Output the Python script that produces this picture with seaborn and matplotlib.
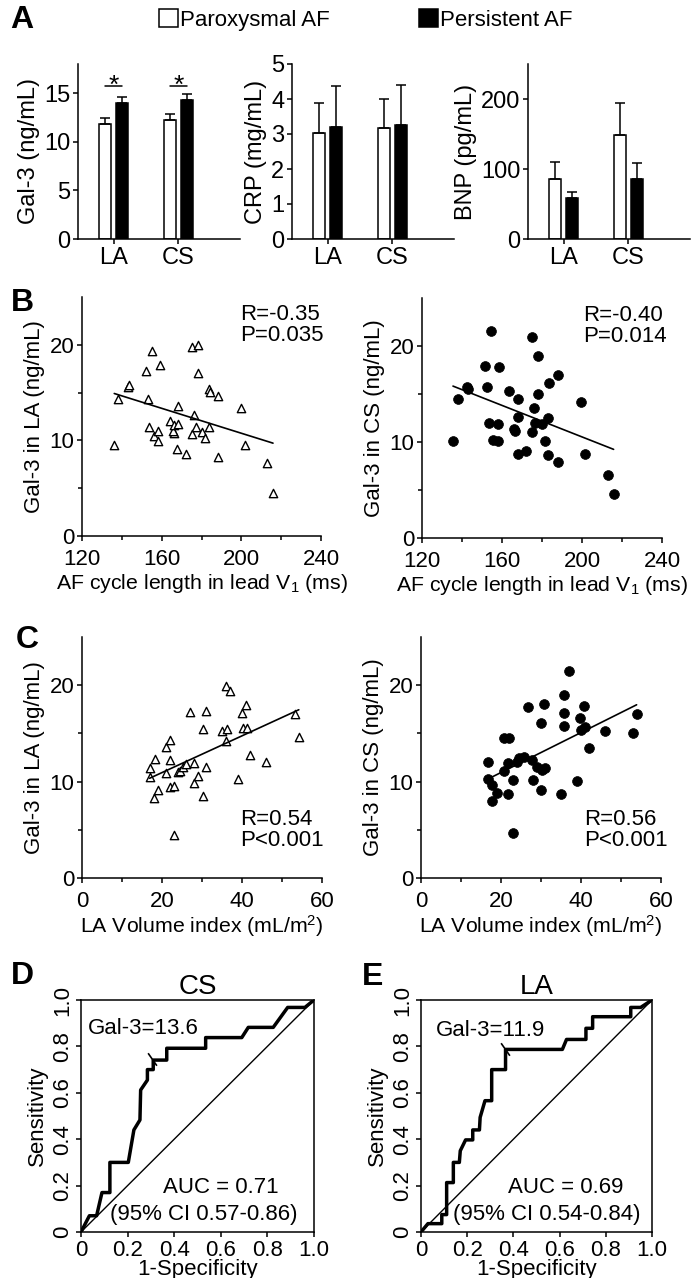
import numpy as np
import pandas as pd
import matplotlib
matplotlib.use("Agg")
import matplotlib.pyplot as plt
import seaborn as sns
from matplotlib.ticker import FixedLocator

# ---------------- panel A : mean + upper SEM ----------------
sites = ["LA", "CS"]
groups = ["Paroxysmal AF", "Persistent AF"]

gal3_par = [11.8, 12.2]
gal3_per = [14.0, 14.3]
gal3_par_err = [0.65, 0.7]
gal3_per_err = [0.6, 0.65]
gal3_sig_y = [15.7, 15.7]

crp_par = [3.03, 3.17]
crp_per = [3.2, 3.26]
crp_par_err = [0.86, 0.84]
crp_per_err = [1.16, 1.15]

bnp_par = [86, 148]
bnp_per = [59, 86]
bnp_par_err = [24, 46]
bnp_per_err = [8, 22]

# ---------------- panel B : AF cycle length vs Gal-3 ----------------
cl_la = [136.2, 138.1, 143.1, 143.4, 152.0, 155.1, 153.1, 159.3, 153.8, 156.0,
         158.2, 158.2, 164.0, 166.0, 165.7, 166.4, 168.2, 168.2, 167.7, 172.0,
         175.0, 178.0, 178.0, 176.0, 175.0, 177.2, 180.2, 182.0, 183.6, 183.8,
         184.1, 188.1, 188.1, 199.8, 202.0, 212.9, 215.9]
gal3_la_cl = [9.5, 14.3, 15.6, 15.8, 17.3, 19.3, 14.3, 17.9, 11.4, 10.5,
              11.0, 9.9, 12.0, 10.8, 11.0, 11.6, 11.7, 13.6, 9.1, 8.6,
              19.8, 20.0, 17.0, 12.7, 10.7, 11.4, 10.9, 10.3, 11.4, 15.4,
              15.1, 14.6, 8.3, 13.4, 9.5, 7.6, 4.5]

cl_cs = [135.5, 137.8, 142.7, 143.0, 151.7, 154.7, 152.7, 158.7, 153.7, 158.0,
         155.7, 158.0, 163.7, 167.8, 167.8, 165.8, 166.7, 167.8, 172.0, 174.8,
         174.8, 177.8, 177.8, 175.8, 176.7, 180.0, 182.8, 183.7, 187.8, 181.7,
         182.8, 187.8, 199.7, 201.7, 212.8, 215.8]
gal3_cs_cl = [10.1, 14.5, 15.7, 15.5, 17.9, 21.6, 15.7, 17.8, 12.0, 11.9,
              10.2, 10.1, 15.3, 14.5, 12.6, 11.4, 11.1, 8.75, 9.1, 11.0,
              20.9, 19.0, 15.0, 13.5, 12.0, 11.9, 12.5, 16.1, 17.0, 10.1,
              8.65, 7.9, 14.2, 8.7, 6.6, 4.6]

# ---------------- panel C : LA volume index vs Gal-3 ----------------
lavi_la = [16.9, 16.9, 18.2, 18.0, 19.0, 20.9, 21.1, 22.1, 22.1, 21.9,
           23.1, 23.9, 24.4, 25.2, 26.1, 27.1, 28.1, 28.1, 29.0, 30.2,
           30.2, 31.0, 31.1, 23.1, 35.1, 36.0, 36.0, 37.1, 36.2, 39.1,
           40.0, 41.1, 40.2, 41.2, 42.1, 46.1, 53.2, 54.2]
gal3_la_lavi = [10.5, 11.4, 12.3, 8.3, 9.1, 10.9, 13.6, 14.3, 12.2, 9.4,
                9.5, 11.0, 11.1, 11.5, 11.8, 17.2, 11.9, 9.9, 10.6, 15.5,
                8.5, 17.3, 11.5, 4.5, 15.2, 14.2, 19.9, 19.4, 15.5, 10.3,
                17.1, 17.9, 15.6, 15.6, 12.8, 12.0, 17.0, 14.6]

lavi_cs = [16.8, 16.8, 17.7, 18.9, 17.8, 20.8, 21.8, 20.8, 21.9, 22.9,
           21.8, 23.9, 24.6, 25.8, 27.7, 27.9, 26.8, 29.1, 30.2, 31.0,
           29.9, 29.9, 30.8, 22.9, 35.0, 35.8, 36.9, 35.8, 35.8, 38.9,
           39.8, 40.8, 40.0, 40.9, 41.9, 46.0, 52.9, 53.9]
gal3_cs_lavi = [12.0, 10.3, 9.6, 8.8, 8.0, 11.1, 11.9, 14.5, 14.5, 10.2,
                8.7, 12.0, 12.45, 12.6, 12.2, 10.2, 17.7, 11.55, 11.2, 11.4,
                9.1, 16.1, 18.0, 4.65, 8.7, 19.0, 21.5, 17.1, 15.8, 10.1,
                16.6, 17.8, 15.4, 15.7, 13.5, 15.3, 15.0, 17.0]

# ---------------- panels D / E : ROC curves ----------------
roc_cs_fpr = [0, 0.036, 0.067, 0.09, 0.124, 0.124, 0.203, 0.227, 0.253, 0.256,
              0.285, 0.285, 0.31, 0.31, 0.368, 0.368, 0.535, 0.535, 0.69, 0.718,
              0.825, 0.887, 0.961, 1.0]
roc_cs_tpr = [0, 0.07, 0.07, 0.17, 0.17, 0.30, 0.30, 0.44, 0.483, 0.612,
              0.655, 0.70, 0.70, 0.741, 0.741, 0.792, 0.792, 0.838, 0.838, 0.882,
              0.882, 0.968, 0.968, 1.0]
cut_cs = [0.305, 0.745]

roc_la_fpr = [0, 0.03, 0.09, 0.09, 0.111, 0.111, 0.14, 0.14, 0.166, 0.17,
              0.193, 0.224, 0.224, 0.253, 0.256, 0.277, 0.306, 0.306, 0.366, 0.366,
              0.612, 0.63, 0.714, 0.714, 0.743, 0.743, 0.908, 0.908, 0.951, 1.0]
roc_la_tpr = [0, 0.036, 0.036, 0.075, 0.075, 0.213, 0.213, 0.30, 0.30, 0.35,
              0.397, 0.397, 0.44, 0.44, 0.494, 0.566, 0.566, 0.70, 0.70, 0.787,
              0.787, 0.83, 0.83, 0.878, 0.878, 0.928, 0.928, 0.968, 0.968, 1.0]
cut_la = [0.362, 0.787]

chance = [0, 1]
roc_ticks = [0, 0.2, 0.4, 0.6, 0.8, 1.0]
roc_ticklabels = ["0", "0.2", "0.4", "0.6", "0.8", "1.0"]


sns.set_theme(style="ticks")
plt.rcParams["font.family"] = ["Liberation Sans", "DejaVu Sans"]
plt.rcParams["mathtext.fontset"] = "custom"
plt.rcParams["mathtext.rm"] = "Liberation Sans"
plt.rcParams["mathtext.it"] = "Liberation Sans"
plt.rcParams["axes.linewidth"] = 1.1
plt.rcParams["axes.edgecolor"] = "black"
plt.rcParams["xtick.color"] = "black"
plt.rcParams["ytick.color"] = "black"
plt.rcParams["xtick.major.size"] = 3.5
plt.rcParams["ytick.major.size"] = 3.5
plt.rcParams["xtick.minor.size"] = 3
plt.rcParams["ytick.minor.size"] = 3
plt.rcParams["xtick.major.width"] = 1.1
plt.rcParams["ytick.major.width"] = 1.1
plt.rcParams["xtick.minor.width"] = 1.1
plt.rcParams["ytick.minor.width"] = 1.1
plt.rcParams["text.color"] = "black"
plt.rcParams["axes.labelcolor"] = "black"

FS = 16
W, H = 691, 1278
fig = plt.figure(figsize=(W / 100, H / 100), dpi=100)


def px_axes(x0, y0, x1, y1):
    return fig.add_axes([x0 / W, 1 - y1 / H, (x1 - x0) / W, (y1 - y0) / H])


# ---------------- A ----------------
df_bar = pd.DataFrame({
    "site": sites * 2,
    "group": [groups[0]] * 2 + [groups[1]] * 2,
    "gal3": gal3_par + gal3_per,
    "crp": crp_par + crp_per,
    "bnp": bnp_par + bnp_per,
})


def bar_panel(ax, col, par_err, per_err, ylim, yticks, ylabel, legend=False):
    sns.barplot(data=df_bar, x="site", y=col, hue="group", order=sites,
                hue_order=groups, palette=["white", "black"], saturation=1,
                edgecolor="black", linewidth=1.1, width=0.51, gap=0.26,
                errorbar=None, legend=legend, ax=ax)
    bars = list(ax.containers)
    for cont, errs in zip(bars, [par_err, per_err]):
        for bar, e in zip(cont, errs):
            xc = bar.get_x() + bar.get_width() / 2
            ax.errorbar(xc, bar.get_height(), yerr=[[0], [e]], color="black",
                        lw=1.1, capsize=3.5, capthick=1.1)
    ax.set_xlim(-0.55, 1.95)
    ax.set_ylim(*ylim)
    ax.set_yticks(yticks)
    ax.set_xlabel("")
    ax.set_ylabel(ylabel, fontsize=FS + 1, labelpad=3)
    ax.tick_params(labelsize=FS + 1, pad=2)
    sns.despine(ax=ax)
    return bars


ax_a1 = px_axes(78, 64, 240, 239)
bars = bar_panel(ax_a1, "gal3", gal3_par_err, gal3_per_err, (0, 18),
                 [0, 5, 10, 15], "Gal-3 (ng/mL)", legend=True)
handles, labels = ax_a1.get_legend_handles_labels()
ax_a1.get_legend().remove()
for i in range(len(sites)):
    b0, b1 = bars[0][i], bars[1][i]
    x0 = b0.get_x() + b0.get_width() / 2
    x1 = b1.get_x() + b1.get_width() / 2
    ax_a1.plot([x0, x1], [gal3_sig_y[i]] * 2, color="black", lw=1.1)
    ax_a1.text((x0 + x1) / 2, gal3_sig_y[i] - 0.7, "*", ha="center",
               va="baseline", fontsize=FS + 3)

ax_a2 = px_axes(292, 64, 454, 239)
bar_panel(ax_a2, "crp", crp_par_err, crp_per_err, (0, 5), [0, 1, 2, 3, 4, 5],
          "CRP (mg/mL)")

ax_a3 = px_axes(528, 64, 690, 239)
bar_panel(ax_a3, "bnp", bnp_par_err, bnp_per_err, (0, 250), [0, 100, 200],
          "BNP (pg/mL)")

fig.legend(handles, labels, loc="center", bbox_to_anchor=(366 / W, 1 - 20 / H),
           ncol=2, frameon=False, handlelength=0.85, handleheight=0.85,
           handletextpad=0.1, columnspacing=4.0,
           prop={"size": FS})


# ---------------- B / C ----------------
def scatter_panel(ax, x, y, filled, xlim, xticks, xminor, xlabel, ylabel,
                  stat, stat_xy, stat_va):
    if filled:
        skw = dict(s=50, facecolors="black", edgecolors="black", linewidths=0.5, alpha=1)
        mk = "o"
    else:
        skw = dict(s=36, facecolors="white", edgecolors="black", linewidths=1.0, alpha=1)
        mk = "^"
    sns.regplot(x=x, y=y, ax=ax, ci=None, marker=mk, color="black",
                scatter_kws=skw, line_kws=dict(color="black", lw=1.2))
    ax.set_xlim(*xlim)
    ax.set_ylim(0, 25)
    ax.set_xticks(xticks)
    ax.xaxis.set_minor_locator(FixedLocator(xminor))
    ax.set_yticks([0, 10, 20])
    ax.yaxis.set_minor_locator(FixedLocator([5, 15]))
    ax.set_xlabel(xlabel, fontsize=FS - 0.7, labelpad=1)
    ax.set_ylabel(ylabel, fontsize=FS, labelpad=3)
    ax.tick_params(axis="x", labelsize=FS, pad=6)
    ax.tick_params(axis="y", labelsize=FS, pad=2)
    ax.text(stat_xy[0], stat_xy[1], stat, transform=ax.transAxes, fontsize=FS,
            ha="left", va=stat_va, linespacing=1.0)
    sns.despine(ax=ax)


cl_xlabel = "AF cycle length in lead V$_1$ (ms)"
lavi_xlabel = "LA Volume index (mL/m$^2$)"

ax_b1 = px_axes(82, 297, 321, 536)
scatter_panel(ax_b1, cl_la, gal3_la_cl, False, (120, 240), [120, 160, 200, 240],
              [140, 180, 220], cl_xlabel, "Gal-3 in LA (ng/mL)",
              "R=-0.35\nP=0.035", (0.66, 0.97), "top")

ax_b2 = px_axes(422, 298, 662, 538)
scatter_panel(ax_b2, cl_cs, gal3_cs_cl, True, (120, 240), [120, 160, 200, 240],
              [140, 180, 220], cl_xlabel, "Gal-3 in CS (ng/mL)",
              "R=-0.40\nP=0.014", (0.67, 0.97), "top")

ax_c1 = px_axes(82, 637, 322, 878)
scatter_panel(ax_c1, lavi_la, gal3_la_lavi, False, (0, 60), [0, 20, 40, 60],
              [10, 30, 50], lavi_xlabel, "Gal-3 in LA (ng/mL)",
              "R=0.54\nP<0.001", (0.66, 0.11), "bottom")

ax_c2 = px_axes(421, 637, 661, 878)
scatter_panel(ax_c2, lavi_cs, gal3_cs_lavi, True, (0, 60), [0, 20, 40, 60],
              [10, 30, 50], lavi_xlabel, "Gal-3 in CS (ng/mL)",
              "R=0.56\nP<0.001", (0.68, 0.11), "bottom")


# ---------------- D / E ----------------
def roc_panel(ax, fpr, tpr, cut, title, cut_label, cut_xy, auc, ci, auc_x, ci_x):
    sns.lineplot(x=chance, y=chance, color="black", lw=1.0, ax=ax)
    sns.lineplot(x=fpr, y=tpr, sort=False, estimator=None, color="black",
                 lw=2.5, ax=ax)
    ax.plot([cut[0]], [cut[1]], marker=(2, 0, 35), ms=11, mew=1.2, color="black")
    ax.set_xlim(0, 1)
    ax.set_ylim(0, 1)
    ax.set_xticks(roc_ticks)
    ax.set_xticklabels(roc_ticklabels)
    ax.set_yticks(roc_ticks)
    ax.set_yticklabels(roc_ticklabels, rotation=90, va="center")
    ax.tick_params(labelsize=FS, pad=2)
    ax.set_xlabel("1-Specificity", fontsize=FS, labelpad=-1)
    ax.set_ylabel("Sensitivity", fontsize=FS, labelpad=3)
    ax.set_title(title, fontsize=FS + 4, pad=4)
    ax.text(cut_xy[0], cut_xy[1], cut_label, fontsize=FS, ha="left", va="center")
    ax.text(auc_x, 0.19, auc, fontsize=FS, ha="center", va="center")
    ax.text(ci_x, 0.075, ci, fontsize=FS, ha="center", va="center")
    for s in ax.spines.values():
        s.set_visible(True)
        s.set_linewidth(1.1)


ax_d = px_axes(81, 1000, 314, 1232)
roc_panel(ax_d, roc_cs_fpr, roc_cs_tpr, cut_cs, "CS", "Gal-3=13.6", (0.03, 0.875),
          "AUC = 0.71", "(95% CI 0.57-0.86)", 0.6, 0.525)

ax_e = px_axes(421, 1000, 652, 1232)
roc_panel(ax_e, roc_la_fpr, roc_la_tpr, cut_la, "LA", "Gal-3=11.9", (0.064, 0.87),
          "AUC = 0.69", "(95% CI 0.54-0.84)", 0.628, 0.545)

# panel letters
for letter, (lx, ly) in {"A": (22, 20), "B": (22, 303), "C": (27, 640),
                         "D": (22, 976), "E": (373, 977)}.items():
    fig.text(lx / W, 1 - ly / H, letter, fontsize=23, fontweight="bold",
             ha="center", va="center")

fig.savefig("out.png", dpi=100)
